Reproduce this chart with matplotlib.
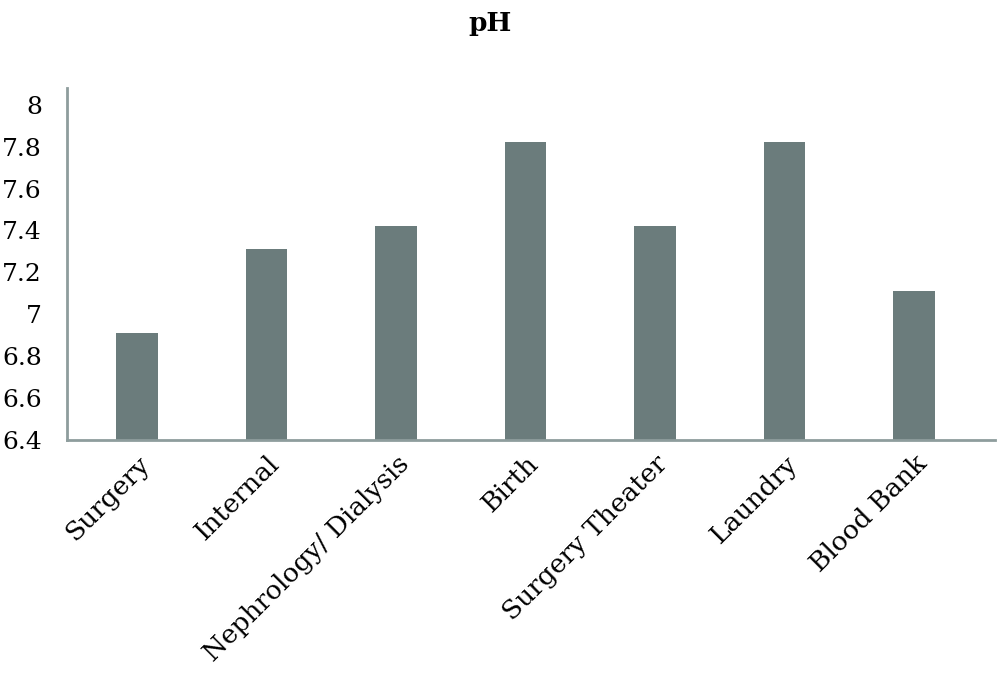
import numpy as np
import matplotlib.pyplot as plt

# data
departments = ['Surgery', 'Internal', 'Nephrology/ Dialysis', 'Birth',
               'Surgery Theater', 'Laundry', 'Blood Bank']
ph_values = [6.91, 7.31, 7.42, 7.82, 7.42, 7.82, 7.11]
y_ticks = [6.4, 6.6, 6.8, 7, 7.2, 7.4, 7.6, 7.8, 8]
y_tick_labels = ['6.4', '6.6', '6.8', '7', '7.2', '7.4', '7.6', '7.8', '8']

plt.rcParams['font.family'] = ['DejaVu Serif']

fig = plt.figure(figsize=(10, 6.85), dpi=100)
ax = fig.add_axes([0.067, 0.358, 0.928, 0.5135])

x = np.arange(len(departments))
ax.bar(x, ph_values, width=0.32, color='#6b7c7c', bottom=0)

ax.set_xlim(-0.54, len(departments) - 0.375)
ax.set_ylim(6.4, 8.08)
ax.set_yticks(y_ticks)
ax.set_yticklabels(y_tick_labels, fontsize=18)
ax.set_xticks(x)
ax.set_xticklabels(departments, rotation=45, ha='right', rotation_mode='anchor',
                   fontsize=19)

for side in ['top', 'right']:
    ax.spines[side].set_visible(False)
for side in ['left', 'bottom']:
    ax.spines[side].set_color('#8e9d9d')
    ax.spines[side].set_linewidth(2)
ax.tick_params(axis='both', length=0)
ax.tick_params(axis='y', pad=18)
ax.tick_params(axis='x', pad=8)

fig.text(0.49, 0.966, 'pH', ha='center', va='center', fontsize=19,
         fontweight='bold')

fig.savefig('out.png', dpi=100)
